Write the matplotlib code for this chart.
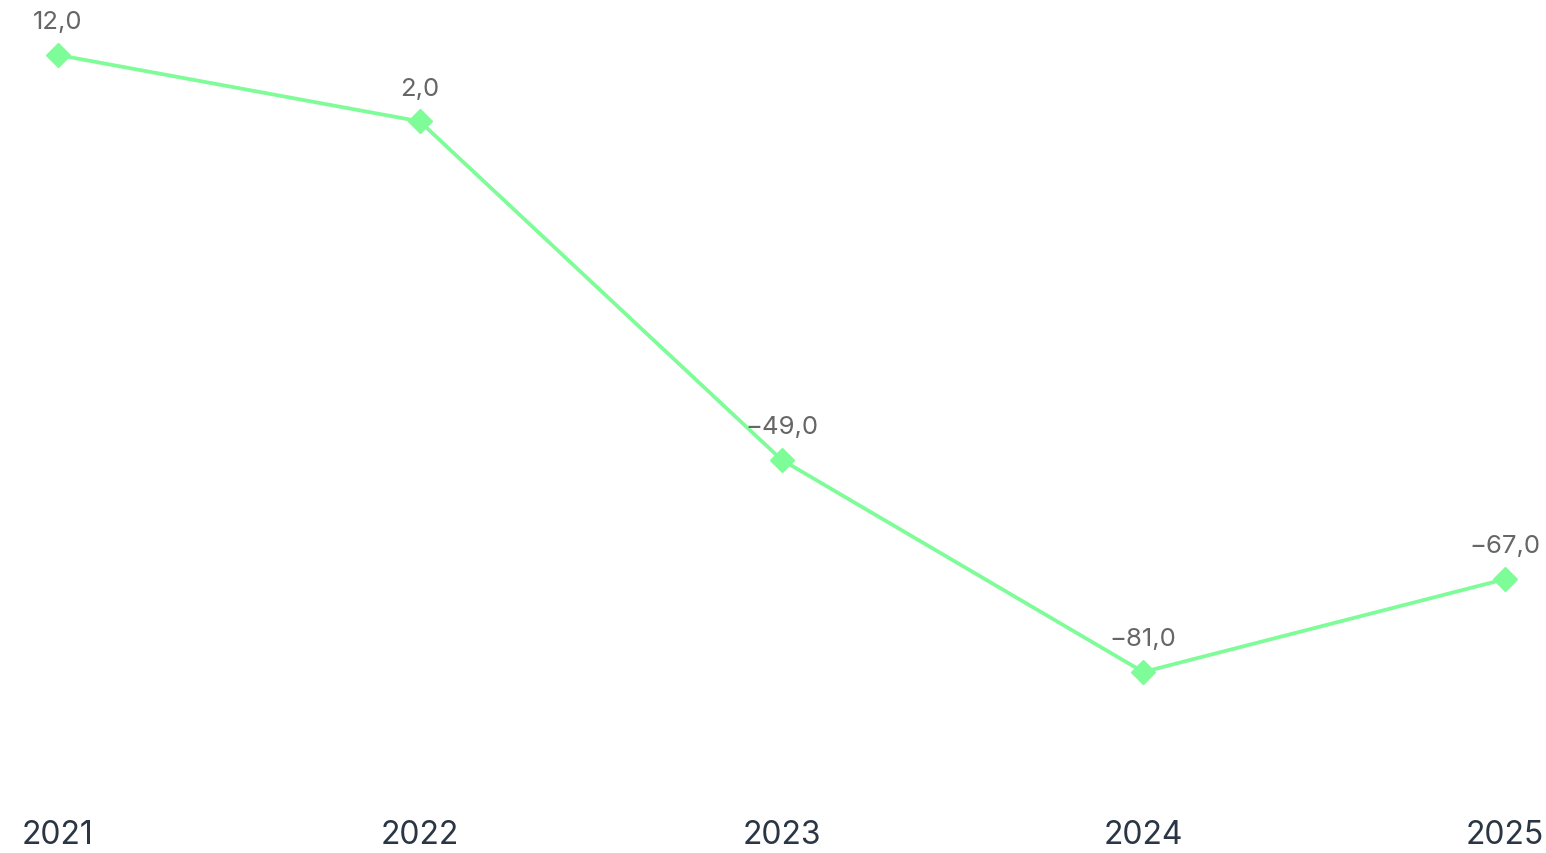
import matplotlib.pyplot as plt

# data
years = [2021, 2022, 2023, 2024, 2025]
values = [12.0, 2.0, -49.0, -81.0, -67.0]
year_labels = ["2021", "2022", "2023", "2024", "2025"]

line_color = "#7dfc98"
label_color = "#666666"
tick_color = "#2b3645"

plt.rcParams['font.family'] = ['Inter', 'DejaVu Sans']

fig = plt.figure(figsize=(15.46, 8.54), dpi=100)
# axes placed so that the data span matches the reference pixels
ax = fig.add_axes([58 / 1546, 1 - 673 / 854, (1505 - 58) / 1546, (673 - 56) / 854])

ax.plot(years, values, color=line_color, lw=2.7, marker="D", ms=12.5,
        clip_on=False, zorder=3)

for x, y in zip(years, values):
    txt = f"{y:.1f}".replace(".", ",").replace("-", "\u2212")
    ax.annotate(txt, (x, y), xytext=(0, 24), textcoords="offset points",
                ha="center", va="center", fontsize=18.5, color=label_color)

ax.set_xlim(2021, 2025)
ax.set_ylim(-81, 12)
ax.set_xticks(years)
ax.set_xticklabels(year_labels, fontsize=23, color=tick_color)
ax.tick_params(axis="x", length=0, pad=106)
ax.set_yticks([])
for s in ax.spines.values():
    s.set_visible(False)

fig.savefig("out.png", dpi=100)
